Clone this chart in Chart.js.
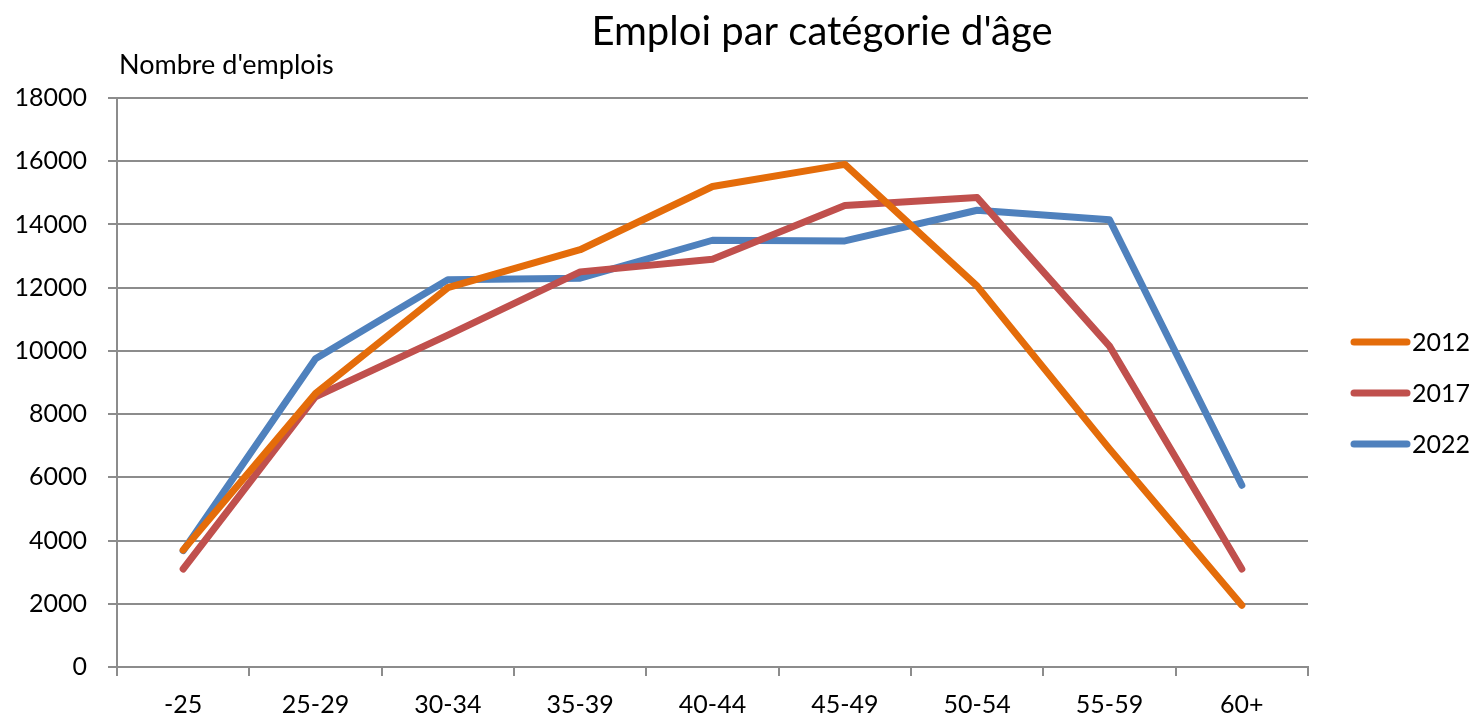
<!DOCTYPE html>
<html>
<head>
<meta charset="utf-8">
<script src="https://cdn.jsdelivr.net/npm/chart.js@4"></script>
<style>
  html, body { margin: 0; padding: 0; background: #fff; }
  #wrap { width: 1474px; height: 717px; }
</style>
</head>
<body>
<div id="wrap"><canvas id="chart" width="1474" height="717"></canvas></div>
<script>
// Emploi par tranche d'âge, trois années
const ageGroups = ['-25', '25-29', '30-34', '35-39', '40-44', '45-49', '50-54', '55-59', '60+'];
const years = ['2012', '2017', '2022'];
const jobs2012 = [3700, 8650, 12000, 13200, 15200, 15900, 12050, 6900, 1950];
const jobs2017 = [3100, 8550, 10500, 12500, 12900, 14600, 14850, 10150, 3100];
const jobs2022 = [3680, 9750, 12250, 12300, 13500, 13480, 14450, 14150, 5750];
const yTicks = [0, 2000, 4000, 6000, 8000, 10000, 12000, 14000, 16000, 18000];

const colors = ['#E46C0A', '#C0504D', '#4F81BD'];
const gridColor = '#8C8C8C';
const fontFamily = 'Lato, "Open Sans", sans-serif';

function makeSeries(label, data, color) {
    return {
        label: label,
        data: data,
        borderColor: color,
        backgroundColor: color,
        borderWidth: 7,
        borderCapStyle: 'round',
        borderJoinStyle: 'round',
        pointRadius: 0,
        tension: 0,
        fill: false,
    };
}

// title, axis caption and legend drawn by hand
const decorations = {
    id: 'decorations',
    afterDraw(chart) {
        const ctx = chart.ctx;
        ctx.save();
        ctx.fillStyle = '#000';
        ctx.textBaseline = 'alphabetic';

        ctx.font = '40px ' + fontFamily;
        ctx.textAlign = 'center';
        ctx.fillText("Emploi par catégorie d'âge", 822, 45);

        ctx.font = '27px ' + fontFamily;
        ctx.textAlign = 'left';
        ctx.fillText("Nombre d'emplois", 119, 74);

        ctx.font = '25px ' + fontFamily;
        ctx.textBaseline = 'middle';
        chart.data.datasets.forEach((ds, i) => {
            const y = 342 + i * 51;
            ctx.strokeStyle = ds.borderColor;
            ctx.lineWidth = 7;
            ctx.lineCap = 'round';
            ctx.beginPath();
            ctx.moveTo(1354, y);
            ctx.lineTo(1407, y);
            ctx.stroke();
            ctx.fillText(ds.label, 1412, y + 1);
        });
        ctx.restore();
    },
};

const chart = new Chart(document.getElementById('chart'), {
    type: 'line',
    data: {
        labels: ageGroups,
        datasets: [
            makeSeries(years[0], jobs2012, colors[0]),
            makeSeries(years[1], jobs2017, colors[1]),
            makeSeries(years[2], jobs2022, colors[2]),
        ],
    },
    options: {
        responsive: false,
        animation: false,
        layout: {
            padding: { top: 98, right: 166, left: 0, bottom: 0 },
        },
        plugins: {
            legend: { display: false },
            tooltip: { enabled: false },
            title: { display: false },
        },
        scales: {
            x: {
                offset: true,
                grid: {
                    offset: true,
                    drawOnChartArea: false,
                    drawTicks: true,
                    tickLength: 9,
                    color: gridColor,
                    lineWidth: 2,
                },
                border: { display: true, color: gridColor, width: 2 },
                ticks: {
                    color: '#000',
                    padding: 14,
                    font: { family: fontFamily, size: 25 },
                    maxRotation: 0,
                },
                afterFit(scale) {
                    scale.height = 50;
                },
            },
            y: {
                min: 0,
                max: 18000,
                afterBuildTicks(scale) {
                    scale.ticks = yTicks.map((v) => ({ value: v }));
                },
                grid: {
                    color: gridColor,
                    lineWidth: 2,
                    drawTicks: true,
                    tickLength: 9,
                },
                border: { display: true, color: gridColor, width: 2 },
                ticks: {
                    color: '#000',
                    padding: 21,
                    font: { family: fontFamily, size: 25 },
                    callback: (value) => String(value),
                },
                afterFit(scale) {
                    scale.width = 117;
                },
            },
        },
    },
    plugins: [decorations],
});
</script>
</body>
</html>
